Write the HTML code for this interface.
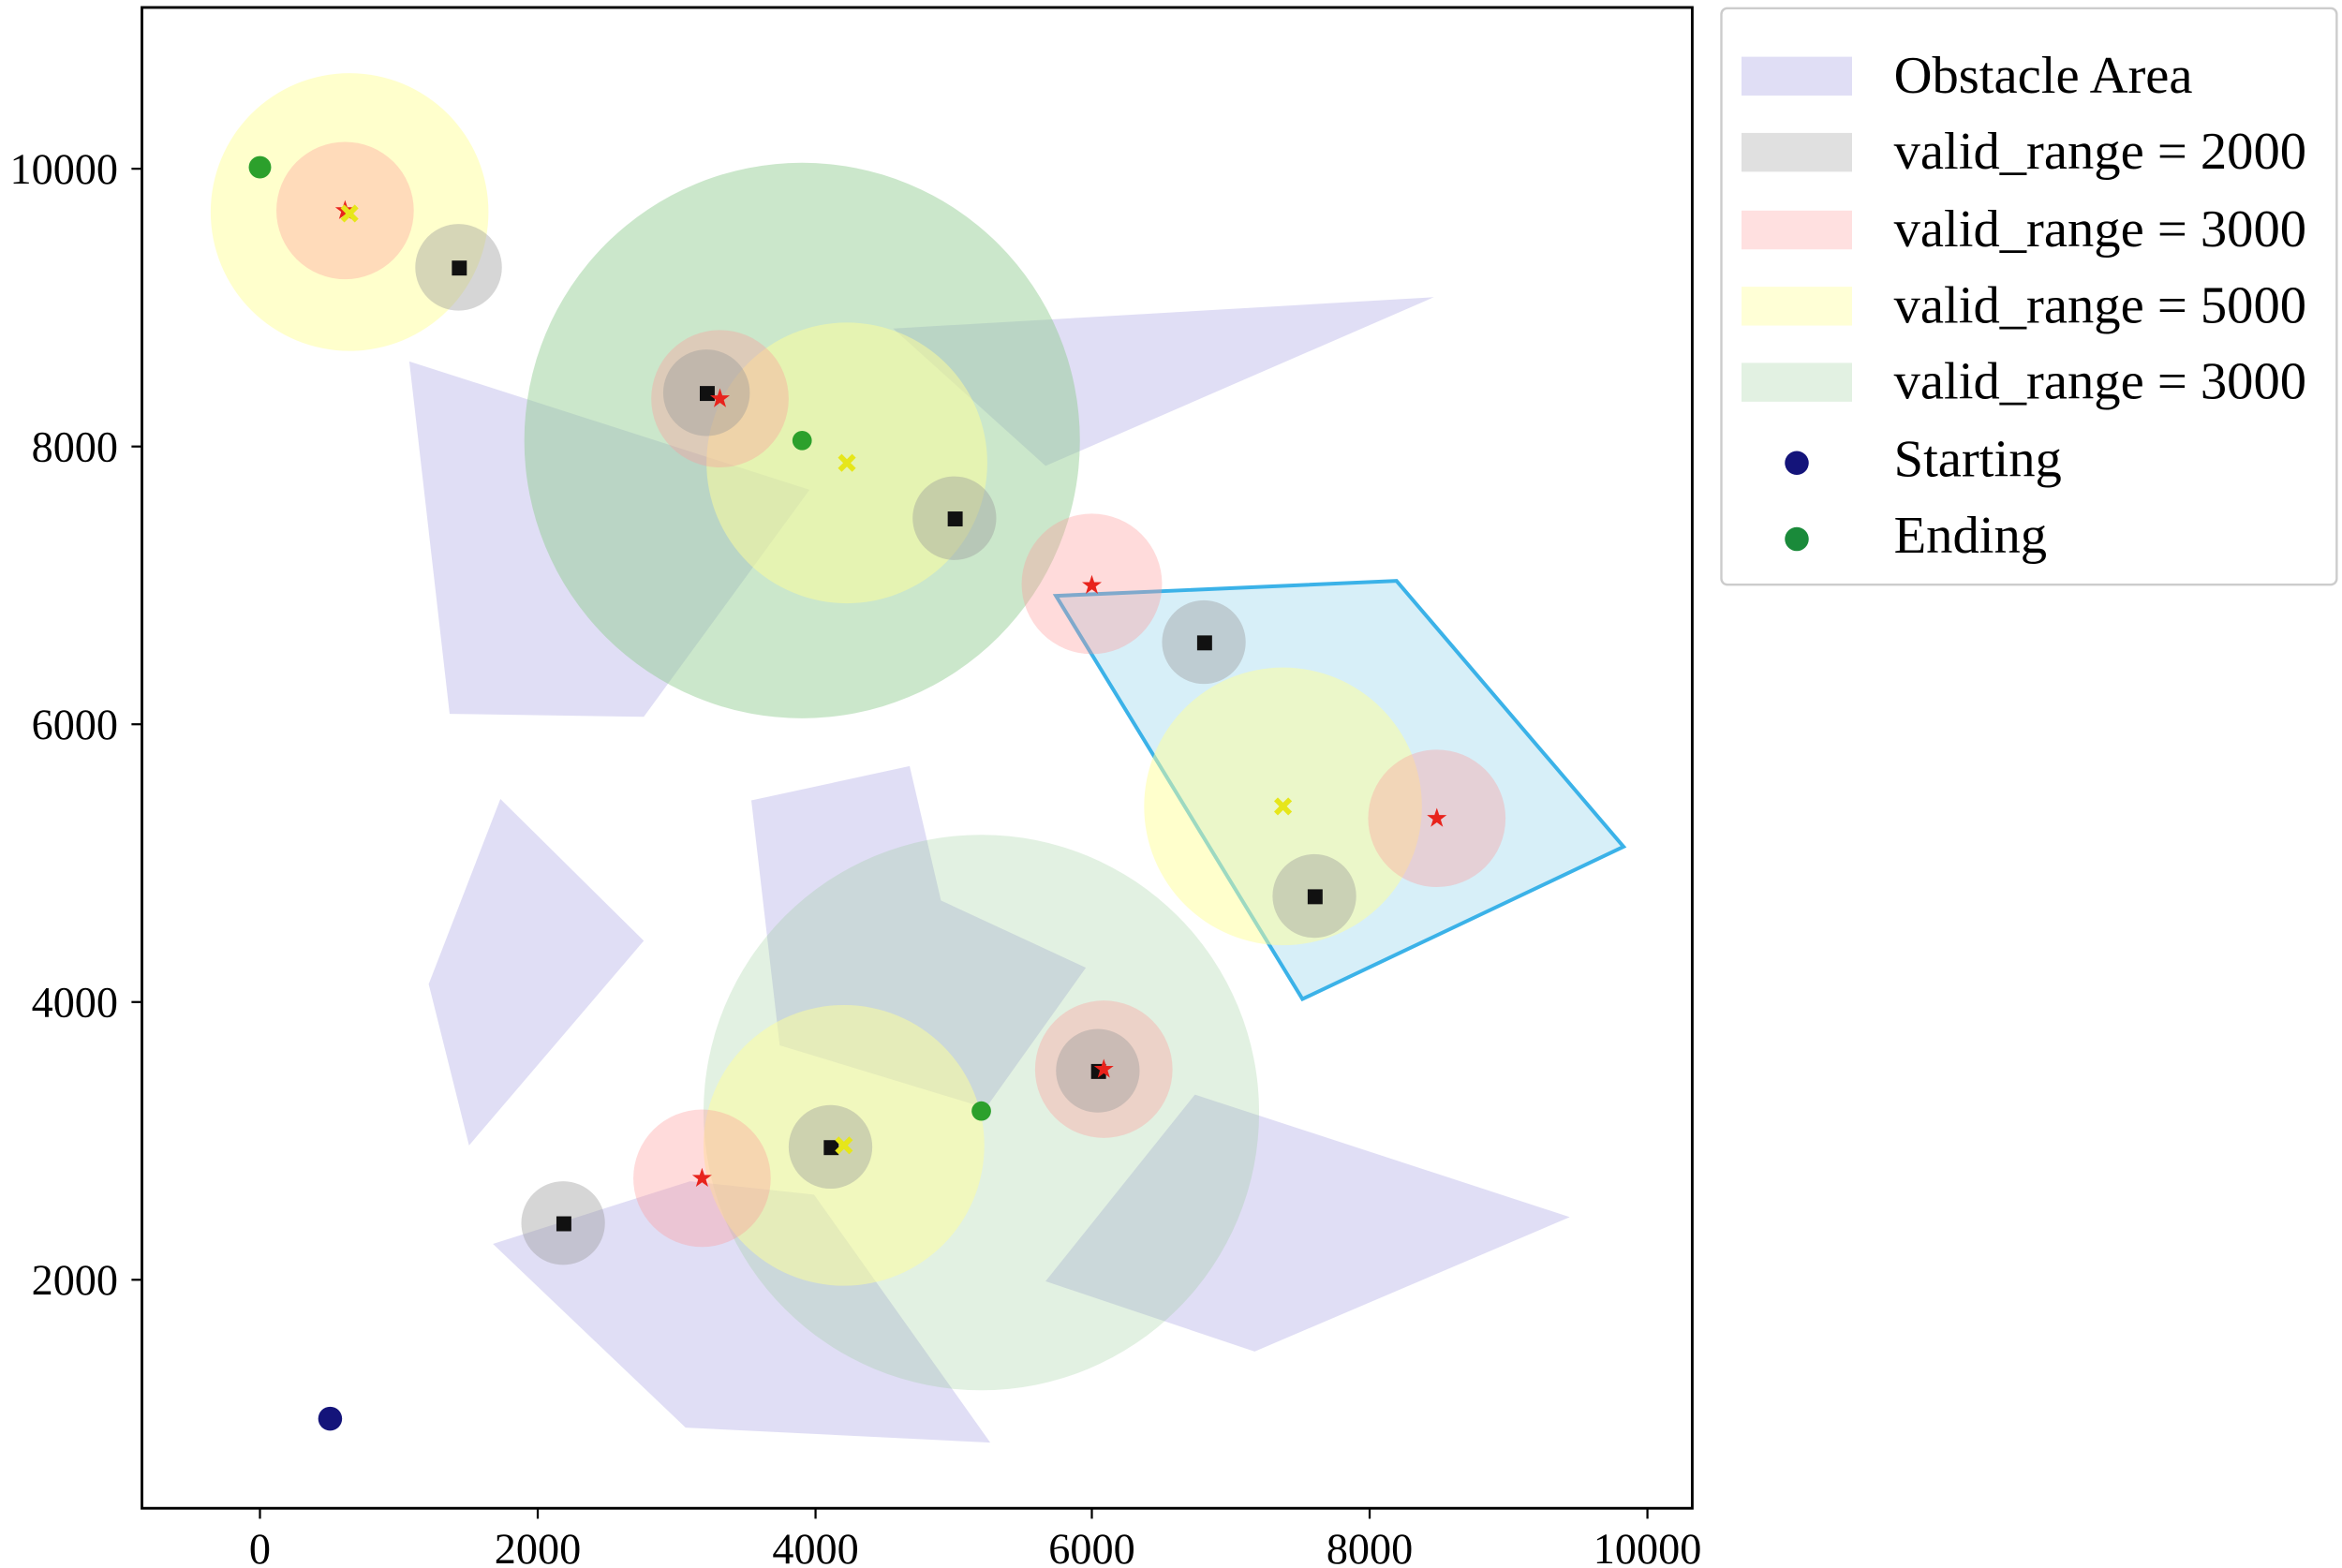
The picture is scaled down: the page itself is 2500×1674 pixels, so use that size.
<!DOCTYPE html>
<html><head><meta charset="utf-8"><style>html,body{margin:0;padding:0;background:#fff}svg{display:block}</style></head>
<body>
<svg width="2500" height="1674" viewBox="0 0 1568 1050" xmlns="http://www.w3.org/2000/svg" font-family="Liberation Serif, serif">
<defs>
<path id="star" d="M0,-7 L1.6,-2.2 L6.6,-2.2 L2.6,0.8 L4.1,5.7 L0,2.7 L-4.1,5.7 L-2.6,0.8 L-6.6,-2.2 L-1.6,-2.2Z" fill="#e8231c"/>
<path id="xm" d="M-6,-3.5 L-3.5,-6 L0,-2.5 L3.5,-6 L6,-3.5 L2.5,0 L6,3.5 L3.5,6 L0,2.5 L-3.5,6 L-6,3.5 L-2.5,0Z" fill="#e6e61a"/>
</defs>
<rect x="0" y="0" width="1568" height="1050" fill="#fff"/>
<g>
<g fill="#8c86d9" fill-opacity="0.27">
<polygon points="274,242 542,328 431,480 301,478"/>
<polygon points="598,220 960,199 700,312"/>
<polygon points="335,535 431,630 314,767 287,659"/>
<polygon points="503,536 609,513 630,603 727,648 660,742 522,700"/>
<polygon points="330,833 462,791 545,800 663,966 459,956"/>
<polygon points="700,858 800,733 1051,815 840,905"/>
</g>
<polygon points="707,399 935,389 1087,567 872,669" fill="#a7dcf0" fill-opacity="0.45" stroke="#3bb2e8" stroke-width="2.5"/>
<circle cx="537" cy="295" r="186" fill="#8cc98c" fill-opacity="0.45"/>
<circle cx="657" cy="745" r="186" fill="#8cc98c" fill-opacity="0.25"/>
<g fill="#ffff99" fill-opacity="0.5">
<circle cx="234" cy="142" r="93"/>
<circle cx="567" cy="310" r="94"/>
<circle cx="859" cy="540" r="93"/>
<circle cx="565" cy="767" r="94"/>
</g>
<g fill="#ff9999" fill-opacity="0.35">
<circle cx="231" cy="141" r="46"/>
<circle cx="482" cy="267" r="46"/>
<circle cx="731" cy="391" r="47"/>
<circle cx="962" cy="548" r="46"/>
<circle cx="739" cy="716" r="46"/>
<circle cx="470" cy="789" r="46"/>
</g>
<g fill="#999" fill-opacity="0.4">
<circle cx="307" cy="179" r="29"/>
<circle cx="473" cy="263" r="29"/>
<circle cx="639" cy="347" r="28"/>
<circle cx="806" cy="430" r="28"/>
<circle cx="880" cy="600" r="28"/>
<circle cx="735" cy="717" r="28"/>
<circle cx="556" cy="768" r="28"/>
<circle cx="377" cy="819" r="28"/>
</g>
<g fill="#111">
<rect x="302.5" y="174.5" width="10" height="10"/>
<rect x="468.5" y="258.5" width="10" height="10"/>
<rect x="634.5" y="342.5" width="10" height="10"/>
<rect x="801.5" y="425.5" width="10" height="10"/>
<rect x="875.5" y="595.5" width="10" height="10"/>
<rect x="730.5" y="712.5" width="10" height="10"/>
<rect x="551.5" y="763.5" width="10" height="10"/>
<rect x="372.5" y="814.5" width="10" height="10"/>
</g>
<use href="#star" x="231" y="141"/><use href="#star" x="482" y="267"/><use href="#star" x="731" y="392"/>
<use href="#star" x="962" y="548"/><use href="#star" x="739" y="716"/><use href="#star" x="470" y="789"/>
<use href="#xm" x="234" y="143" fill="#ffd700"/><use href="#xm" x="567" y="310"/><use href="#xm" x="859" y="540"/><use href="#xm" x="565" y="767"/>
<g fill="#2ca02c"><circle cx="174" cy="112" r="7.5"/><circle cx="537" cy="295" r="6.5"/><circle cx="657" cy="744" r="6.5"/></g>
<circle cx="221" cy="950" r="8" fill="#14147a"/>
</g>
<rect x="95" y="5" width="1038" height="1005" fill="none" stroke="#000" stroke-width="1.8"/>
<g stroke="#000" stroke-width="1.4">
<line x1="174" y1="1010" x2="174" y2="1017"/><line x1="360" y1="1010" x2="360" y2="1017"/><line x1="546" y1="1010" x2="546" y2="1017"/>
<line x1="731" y1="1010" x2="731" y2="1017"/><line x1="917" y1="1010" x2="917" y2="1017"/><line x1="1103" y1="1010" x2="1103" y2="1017"/>
<line x1="88" y1="113" x2="95" y2="113"/><line x1="88" y1="299" x2="95" y2="299"/><line x1="88" y1="485" x2="95" y2="485"/>
<line x1="88" y1="671" x2="95" y2="671"/><line x1="88" y1="857" x2="95" y2="857"/>
</g>
<g font-size="29" text-anchor="middle" fill="#000">
<text x="174" y="1047">0</text><text x="360" y="1047">2000</text><text x="546" y="1047">4000</text>
<text x="731" y="1047">6000</text><text x="917" y="1047">8000</text><text x="1103" y="1047">10000</text>
</g>
<g font-size="29" text-anchor="end" fill="#000">
<text x="79" y="123">10000</text><text x="79" y="309">8000</text><text x="79" y="495">6000</text>
<text x="79" y="681">4000</text><text x="79" y="867">2000</text>
</g>
<rect x="1152.5" y="5.5" width="412" height="386" rx="4" fill="#fff" stroke="#ccc" stroke-width="1.5"/>
<rect x="1166" y="38" width="74" height="26" fill="#8c86d9" fill-opacity="0.27"/>
<rect x="1166" y="89" width="74" height="26" fill="#999" fill-opacity="0.3"/>
<rect x="1166" y="141" width="74" height="26" fill="#ff9999" fill-opacity="0.3"/>
<rect x="1166" y="192" width="74" height="26" fill="#ffff99" fill-opacity="0.4"/>
<rect x="1166" y="243" width="74" height="26" fill="#8cc98c" fill-opacity="0.25"/>
<circle cx="1203" cy="310" r="8" fill="#14147a"/>
<circle cx="1203" cy="361" r="8" fill="#1a8a3a"/>
<g font-size="35.5" fill="#000">
<text x="1268" y="62">Obstacle Area</text>
<text x="1268" y="113">valid_range = 2000</text>
<text x="1268" y="165">valid_range = 3000</text>
<text x="1268" y="216">valid_range = 5000</text>
<text x="1268" y="267">valid_range = 3000</text>
<text x="1268" y="319">Starting</text>
<text x="1268" y="370">Ending</text>
</g>
</svg>
</body></html>
